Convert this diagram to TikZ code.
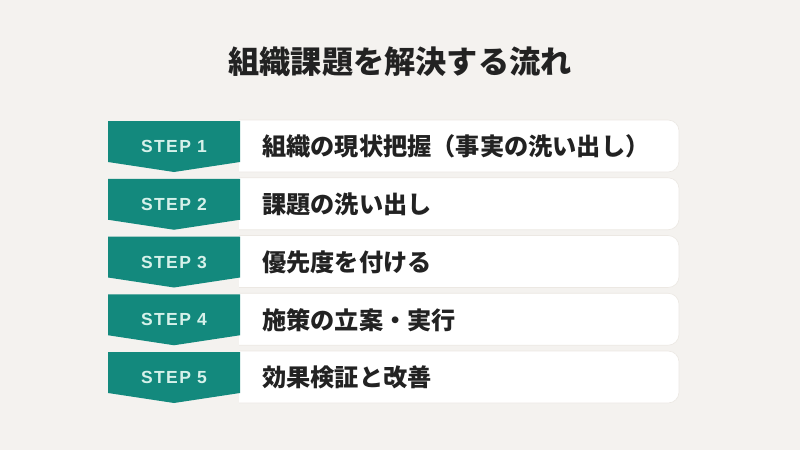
\documentclass[tikz,border=0pt]{standalone}
\usepackage{fontspec}
\setmainfont{Liberation Sans}
\newfontfamily\cjk{Noto Sans CJK JP}
\newfontfamily\stepfont[LetterSpace=8]{Liberation Sans}
\definecolor{bg}{HTML}{F4F2EF}
\definecolor{teal}{HTML}{13897D}
\definecolor{mint}{HTML}{D6F1EA}
\definecolor{ink}{HTML}{222222}
\definecolor{edge}{HTML}{ECE8E3}
\tikzset{
  whitebox/.style={fill=white, draw=edge, line width=0.6pt},
  chevron/.style={fill=teal, draw=none},
  steplabel/.style={text=mint, font=\stepfont\bfseries\fontsize{17.5}{19}\selectfont, inner sep=0pt},
  itemlabel/.style={text=ink, anchor=west, font=\cjk\bfseries\fontsize{24.2}{28}\selectfont, inner sep=0pt},
  titlelabel/.style={text=ink, font=\cjk\bfseries\fontsize{31.2}{35}\selectfont, inner sep=0pt}
}
\begin{document}
\begin{tikzpicture}[x=1pt,y=-1pt]
\fill[bg] (0,0) rectangle (800,450);
\useasboundingbox (0,0) rectangle (800,450);
\node[titlelabel] (title) at (400,61.5) {組織課題を解決する流れ};
\foreach \i/\s/\t in {0/1/組織の現状把握（事実の洗い出し）,1/2/課題の洗い出し,2/3/優先度を付ける,3/4/施策の立案・実行,4/5/効果検証と改善}{
  \pgfmathsetmacro{\yt}{121+57.75*\i}
  \draw[whitebox] (239,\yt-1) -- (668,\yt-1) arc[start angle=90,end angle=0,radius=11pt] -- (679,\yt+40) arc[start angle=0,end angle=-90,radius=11pt] -- (239,\yt+51);
  \fill[chevron] (108,\yt) -- (240,\yt) -- (240,\yt+41) -- (174,\yt+51) -- (108,\yt+41) -- cycle;
  \node[steplabel] (step\s) at (174,\yt+25.5) {STEP \s};
  \node[itemlabel] (item\s) at (262,\yt+25.5) {\t};
}
\end{tikzpicture}
\end{document}
